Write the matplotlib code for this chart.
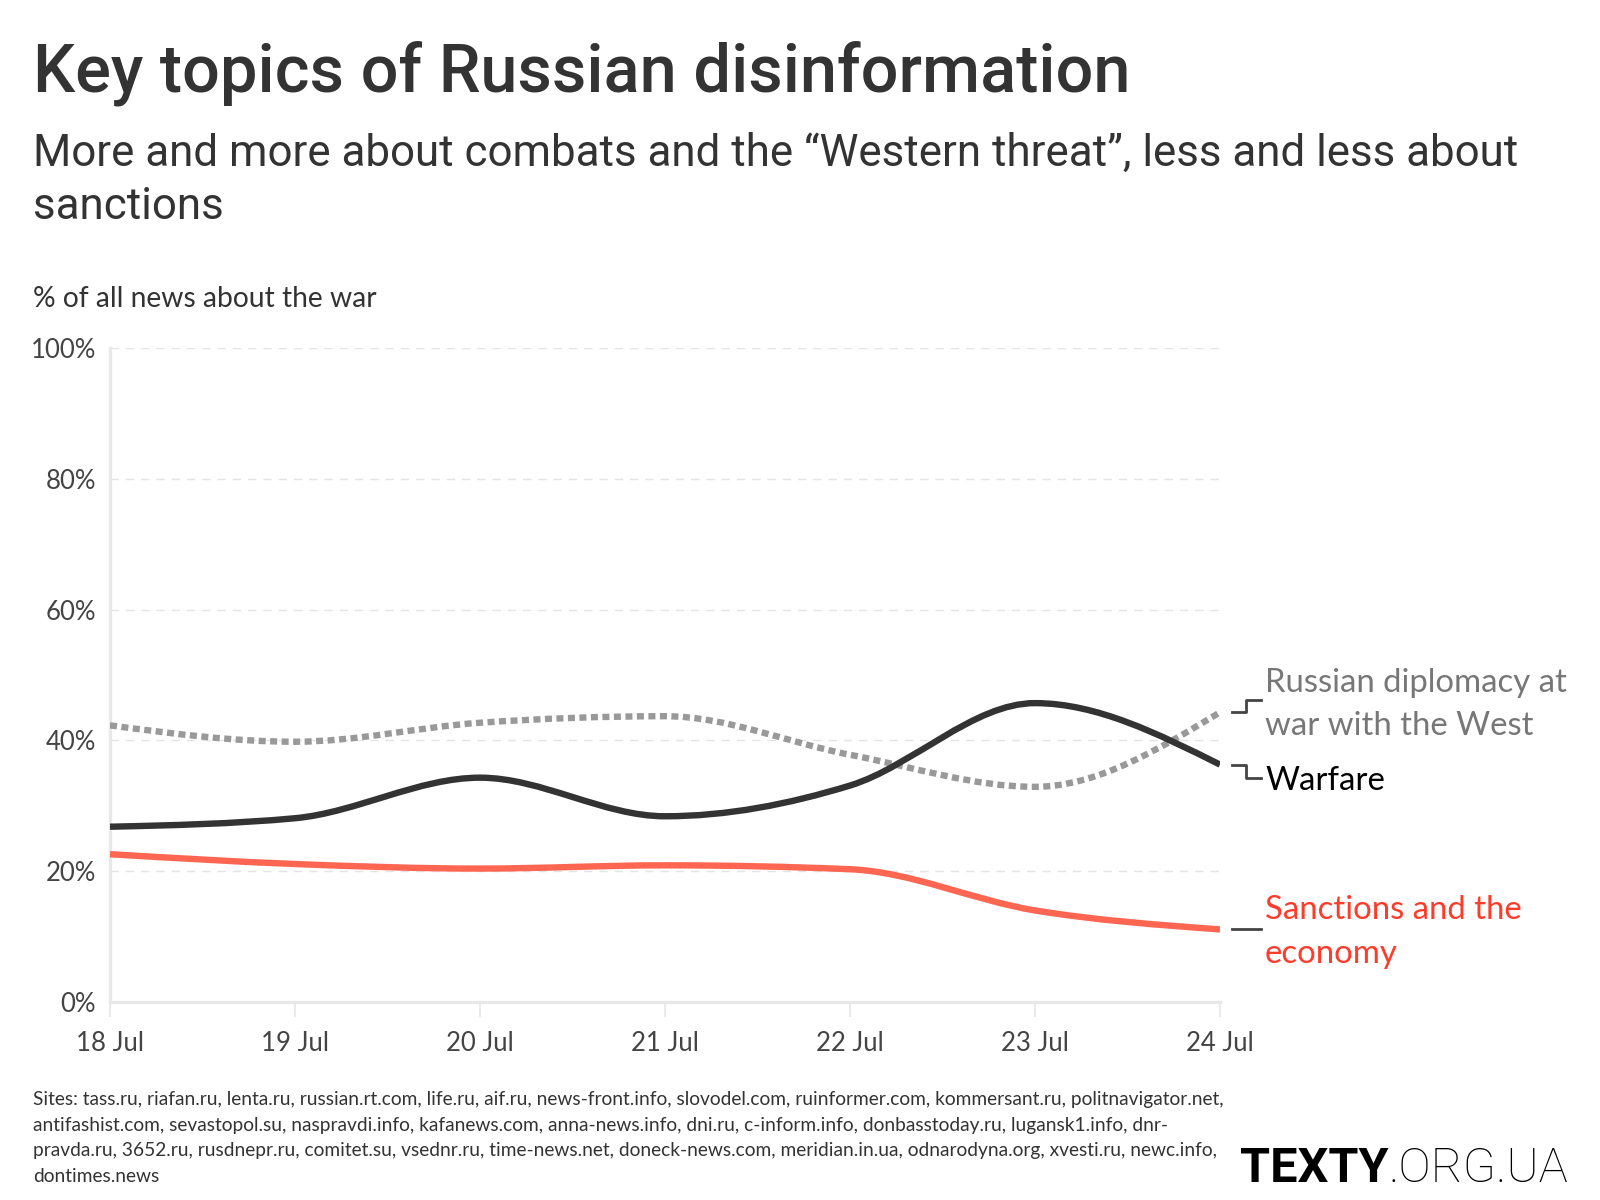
import numpy as np
import matplotlib
matplotlib.use("Agg")
import matplotlib.pyplot as plt
from matplotlib.path import Path
from matplotlib.patches import PathPatch

# data (share of all war news, %)
days = ["18 Jul", "19 Jul", "20 Jul", "21 Jul", "22 Jul", "23 Jul", "24 Jul"]
warfare = [26.8, 28.1, 34.3, 28.4, 33.1, 45.7, 36.3]
diplomacy = [42.3, 39.8, 42.7, 43.7, 37.8, 32.9, 44.3]
sanctions = [22.6, 21.1, 20.4, 20.9, 20.3, 14.0, 11.1]
yticks = [0, 20, 40, 60, 80, 100]

W, H = 1600, 1200
plt.rcParams["font.family"] = ["Lato", "DejaVu Sans"]


def fp(x, y):
    # figure pixel coords (top-left origin) -> figure fraction
    return x / W, 1 - y / H


def monotone_path(xs, ys):
    # cubic bezier path like d3.curveMonotoneX
    xs = np.asarray(xs, float)
    ys = np.asarray(ys, float)
    n = len(xs)
    h = np.diff(xs)
    s = np.diff(ys) / h
    t = np.zeros(n)
    for i in range(1, n - 1):
        p = (s[i - 1] * h[i] + s[i] * h[i - 1]) / (h[i - 1] + h[i])
        t[i] = (np.sign(s[i - 1]) + np.sign(s[i])) * min(abs(s[i - 1]), abs(s[i]), 0.5 * abs(p))
    t[0] = (3 * s[0] - t[1]) / 2
    t[-1] = (3 * s[-1] - t[-2]) / 2
    verts = [(xs[0], ys[0])]
    codes = [Path.MOVETO]
    for i in range(n - 1):
        dx = h[i] / 3
        verts += [(xs[i] + dx, ys[i] + dx * t[i]),
                  (xs[i + 1] - dx, ys[i + 1] - dx * t[i + 1]),
                  (xs[i + 1], ys[i + 1])]
        codes += [Path.CURVE4] * 3
    return Path(verts, codes)


fig = plt.figure(figsize=(16, 12), dpi=100)
ax = fig.add_axes([110 / W, 1 - 1002 / H, 1110 / W, 654 / H])

x = np.arange(len(days))
ax.set_xlim(0, len(days) - 1)
ax.set_ylim(0, 100)

for yv in yticks[1:]:
    ax.axhline(yv, color="#e4e4e4", lw=1, ls=(0, (6, 5)), zorder=1)

series = [
    (diplomacy, "#999999", (0, (1.1, 0.7))),
    (warfare, "#333333", "-"),
    (sanctions, "#ff6652", "-"),
]
for vals, col, ls in series:
    patch = PathPatch(monotone_path(x, vals), fill=False, edgecolor=col,
                      lw=4.6, ls=ls, capstyle="butt", zorder=3)
    ax.add_patch(patch)

ax.set_yticks(yticks)
ax.set_yticklabels([f"{v}%" for v in yticks])
ax.set_xticks(x)
ax.set_xticklabels(days)
ax.tick_params(axis="y", length=0, pad=10, labelsize=18.5, labelcolor="#444444")
ax.tick_params(axis="x", length=11, width=1.2, color="#e6e6e6", pad=10,
               labelsize=18.5, labelcolor="#444444")
for side in ["top", "right"]:
    ax.spines[side].set_visible(False)
for side in ["left", "bottom"]:
    ax.spines[side].set_color("#e8e8e8")
    ax.spines[side].set_linewidth(2.4)
ax.set_facecolor("none")

# connectors from line ends to labels
trans = ax.transData
xe = len(days) - 1
for vals, dy in [(diplomacy, -12), (warfare, 13), (sanctions, 0)]:
    x0, y0 = trans.transform((xe, vals[-1]))
    # pixel offsets, positive dy means label lower on screen
    xs_px = [x0 + 12, x0 + 26, x0 + 26, x0 + 41]
    ys_px = [y0, y0, y0 - dy, y0 - dy]
    fig.add_artist(plt.Line2D(np.array(xs_px) / W, np.array(ys_px) / H,
                              color="#444444", lw=2, transform=fig.transFigure))

lab_x = 1265
lab_fs = 23.7
fig.text(*fp(lab_x, 692), "Russian diplomacy at", fontsize=lab_fs, color="#777777", va="baseline")
fig.text(*fp(lab_x, 735), "war with the West", fontsize=lab_fs, color="#777777", va="baseline")
fig.text(*fp(lab_x, 790), "Warfare", fontsize=lab_fs, color="#000000", va="baseline")
fig.text(*fp(lab_x, 919), "Sanctions and the", fontsize=lab_fs, color="#ff3b2a", va="baseline")
fig.text(*fp(lab_x, 963), "economy", fontsize=lab_fs, color="#ff3b2a", va="baseline")

# titles
fig.text(*fp(33, 92), "Key topics of Russian disinformation", fontsize=48,
         family=["Roboto", "DejaVu Sans"], weight="medium", color="#333333", va="baseline")
fig.text(*fp(33, 166), "More and more about combats and the \u201cWestern threat\u201d, less and less about",
         fontsize=31.6, family=["Roboto", "DejaVu Sans"], color="#333333", va="baseline")
fig.text(*fp(33, 219), "sanctions", fontsize=31.6, family=["Roboto", "DejaVu Sans"],
         color="#333333", va="baseline")
fig.text(*fp(33, 307), "% of all news about the war", fontsize=20.3, color="#333333", va="baseline")

footer = [
    "Sites: tass.ru, riafan.ru, lenta.ru, russian.rt.com, life.ru, aif.ru, news-front.info, slovodel.com, ruinformer.com, kommersant.ru, politnavigator.net,",
    "antifashist.com, sevastopol.su, naspravdi.info, kafanews.com, anna-news.info, dni.ru, c-inform.info, donbasstoday.ru, lugansk1.info, dnr-",
    "pravda.ru, 3652.ru, rusdnepr.ru, comitet.su, vsednr.ru, time-news.net, doneck-news.com, meridian.in.ua, odnarodyna.org, xvesti.ru, newc.info,",
    "dontimes.news",
]
for i, line in enumerate(footer):
    fig.text(*fp(33, 1105 + i * 25.5), line, fontsize=13.8, color="#333333", va="baseline")

t1 = fig.text(*fp(1240, 1182), "TEXTY", fontsize=35, family=["Roboto", "DejaVu Sans"],
              weight="bold", color="#000000", va="baseline")
fig.canvas.draw()
bb = t1.get_window_extent()
fig.text(bb.x1 / W, 1 - 1182 / H, ".ORG.UA", fontsize=35, family=["Roboto", "DejaVu Sans"],
         weight="light", color="#000000", va="baseline")

fig.savefig("out.png", dpi=100, facecolor="white")
